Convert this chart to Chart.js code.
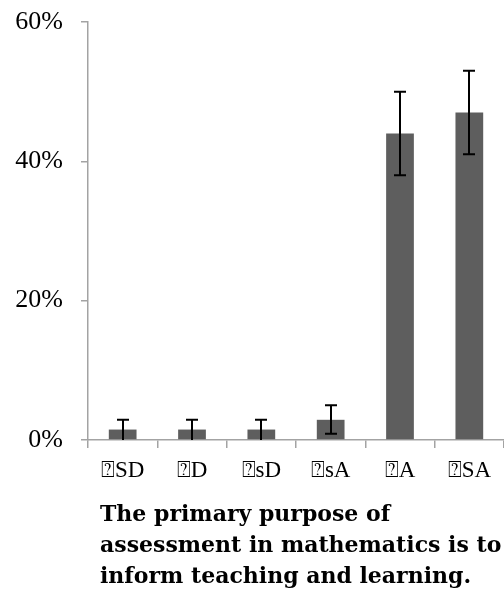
<!DOCTYPE html>
<html>
<head>
<meta charset="utf-8">
<script src="https://cdn.jsdelivr.net/npm/chart.js@4"></script>
<style>
  html, body { margin: 0; padding: 0; background: #fff; }
  #wrap { width: 504px; height: 592px; }
</style>
</head>
<body>
<div id="wrap"><canvas id="chart" width="504" height="592"></canvas></div>
<script>
// --- DATA ---
const categories = ['\u2370SD', '\u2370D', '\u2370sD', '\u2370sA', '\u2370A', '\u2370SA'];
const shares = [1.5, 1.5, 1.5, 2.9, 44, 47];
const errLow = [0, 0, 0, 0.9, 38, 41];
const errHigh = [2.9, 2.9, 2.9, 5, 50, 53];
const yTicks = [0, 20, 40, 60];
const titleLines = ['The primary purpose of', 'assessment in mathematics is to', 'inform teaching and learning.'];

const AXIS = '#a3a3a3';
const SERIF = 'Liberation Serif, Times New Roman, serif';

// --- PLUGINS ---
const errorBars = {
    id: 'errorBars',
    afterDatasetsDraw(chart) {
        const { ctx, scales: { x, y } } = chart;
        ctx.save();
        ctx.strokeStyle = '#000';
        ctx.lineWidth = 2;
        categories.forEach((_, i) => {
            const cx = Math.round(x.getPixelForValue(i));
            const top = y.getPixelForValue(errHigh[i]);
            const bot = y.getPixelForValue(errLow[i]);
            ctx.beginPath();
            ctx.moveTo(cx, top); ctx.lineTo(cx, bot);
            ctx.moveTo(cx - 6, top); ctx.lineTo(cx + 6, top);
            if (errLow[i] > 0) { ctx.moveTo(cx - 6, bot); ctx.lineTo(cx + 6, bot); }
            ctx.stroke();
        });
        ctx.restore();
    }
};

const bottomTitle = {
    id: 'bottomTitle',
    afterDraw(chart) {
        const { ctx } = chart;
        ctx.save();
        ctx.fillStyle = '#000';
        ctx.font = 'bold 22px "DejaVu Serif"';
        ctx.textBaseline = 'alphabetic';
        titleLines.forEach((line, i) => ctx.fillText(line, 100, 521 + i * 31));
        ctx.restore();
    }
};

// --- CHART ---
new Chart(document.getElementById('chart').getContext('2d'), {
    type: 'bar',
    data: {
        labels: categories,
        datasets: [{
            data: shares,
            backgroundColor: '#5e5e5e',
            barPercentage: 0.4,
            categoryPercentage: 1
        }]
    },
    options: {
        responsive: false,
        animation: false,
        layout: { padding: { top: 22, right: 0, left: 0, bottom: 0 } },
        plugins: { legend: { display: false }, tooltip: { enabled: false } },
        scales: {
            y: {
                min: 0, max: 60,
                afterBuildTicks: s => { s.ticks = yTicks.map(v => ({ value: v })); },
                afterFit: s => { s.width = 88; s.paddingTop = 0; s.paddingBottom = 0; },
                ticks: {
                    callback: v => v + '%',
                    color: '#000',
                    font: { family: SERIF, size: 26 },
                    padding: 18
                },
                grid: { drawOnChartArea: false, tickLength: 7, color: AXIS, lineWidth: 1.5 },
                border: { color: AXIS, width: 1.5 }
            },
            x: {
                afterFit: s => { s.height = 152; s.paddingLeft = 0; s.paddingRight = 0; },
                ticks: {
                    color: '#000',
                    font: { family: SERIF, size: 23 },
                    padding: 9,
                    maxRotation: 0
                },
                grid: { drawOnChartArea: false, tickLength: 8, color: AXIS, lineWidth: 1.5, offset: true },
                border: { color: AXIS, width: 1.5 }
            }
        }
    },
    plugins: [errorBars, bottomTitle]
});
</script>
</body>
</html>
